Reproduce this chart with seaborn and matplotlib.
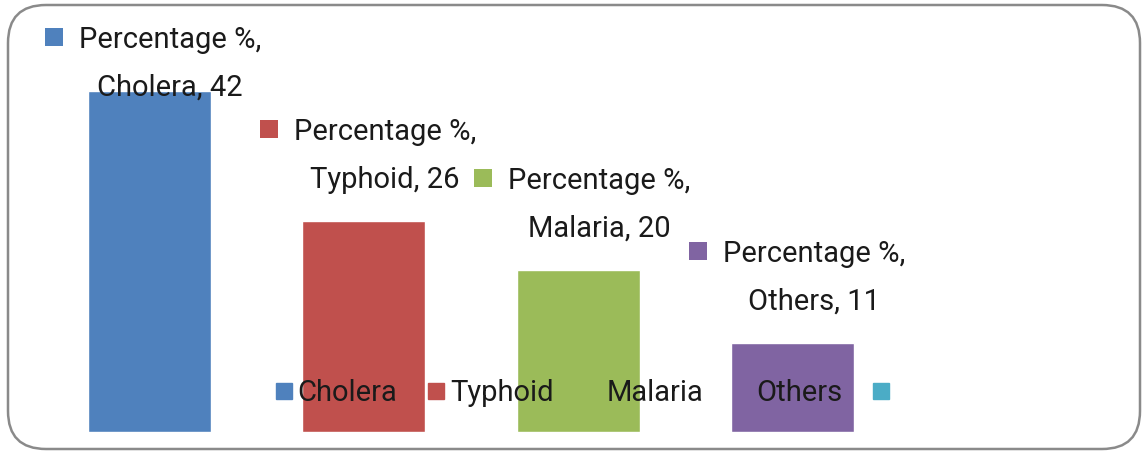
import numpy as np
import pandas as pd
import matplotlib
matplotlib.use("Agg")
import matplotlib.pyplot as plt
import seaborn as sns
from matplotlib.patches import FancyBboxPatch, Rectangle
from matplotlib.lines import Line2D
from matplotlib.transforms import IdentityTransform

# data
diseases = ["Cholera", "Typhoid", "Malaria", "Others", ""]
percentages = [42, 26, 20, 11, 0]
bar_colors = ["#4F81BD", "#C0504D", "#9BBB59", "#8064A2", "#4BACC6"]
series_name = "Percentage %"

W, H = 1144, 451
FS = 21

sns.set_theme(style="white")
plt.rcParams["font.family"] = ["Roboto", "DejaVu Sans"]
plt.rcParams["text.color"] = "#1a1a1a"

fig = plt.figure(figsize=(W / 100, H / 100), dpi=100, facecolor="white")
ax = fig.add_axes([42 / W, 19 / H, (1114.5 - 42) / W, (432 - 67) / H])

df = pd.DataFrame({"disease": diseases, "pct": percentages})
sns.barplot(data=df, x="disease", y="pct", hue="disease", palette=bar_colors,
            width=0.573, saturation=1, legend=False, ax=ax)
ax.set_xlim(-0.5, 4.5)
ax.set_ylim(0, 45)
ax.axis("off")

# data labels: colour key + "Percentage %," on line 1, "name, value" on line 2
fig.canvas.draw()
renderer = fig.canvas.get_renderer()
px = IdentityTransform()
for i, (name, val) in enumerate(zip(diseases, percentages)):
    if not name:
        continue
    bx, by = ax.transData.transform((i, val))
    cx = bx + 21
    y2 = min(by + 41, H - 88)
    y1 = y2 + 48
    fig.text(cx, y2, f"{name}, {val}", transform=px, ha="center", va="center", fontsize=FS)
    t1 = fig.text(cx, y1, f"{series_name},", transform=px, ha="center", va="center", fontsize=FS)
    bb = t1.get_window_extent(renderer)
    fig.add_artist(Rectangle((bb.x0 - 34, y1 - 6), 18, 18, transform=px,
                             facecolor=bar_colors[i], edgecolor="none"))

# legend along the bottom, on top of the bars
handles = [Line2D([], [], ls="none", marker="s", markersize=12,
                  markerfacecolor=c, markeredgecolor=c) for c in bar_colors]
fig.legend(handles, diseases, loc="center", bbox_to_anchor=(585 / W, 1 - 393 / H),
           ncol=5, frameon=False, fontsize=FS, handlelength=0.59,
           handletextpad=0.17, columnspacing=1.05)

# rounded chart border
fig.add_artist(FancyBboxPatch((8, 2), 1132, H - 7, boxstyle="round,pad=0,rounding_size=38",
                              transform=px, fill=False, edgecolor="#8a8a8a", linewidth=1.8))

fig.savefig("out.png", dpi=100)
